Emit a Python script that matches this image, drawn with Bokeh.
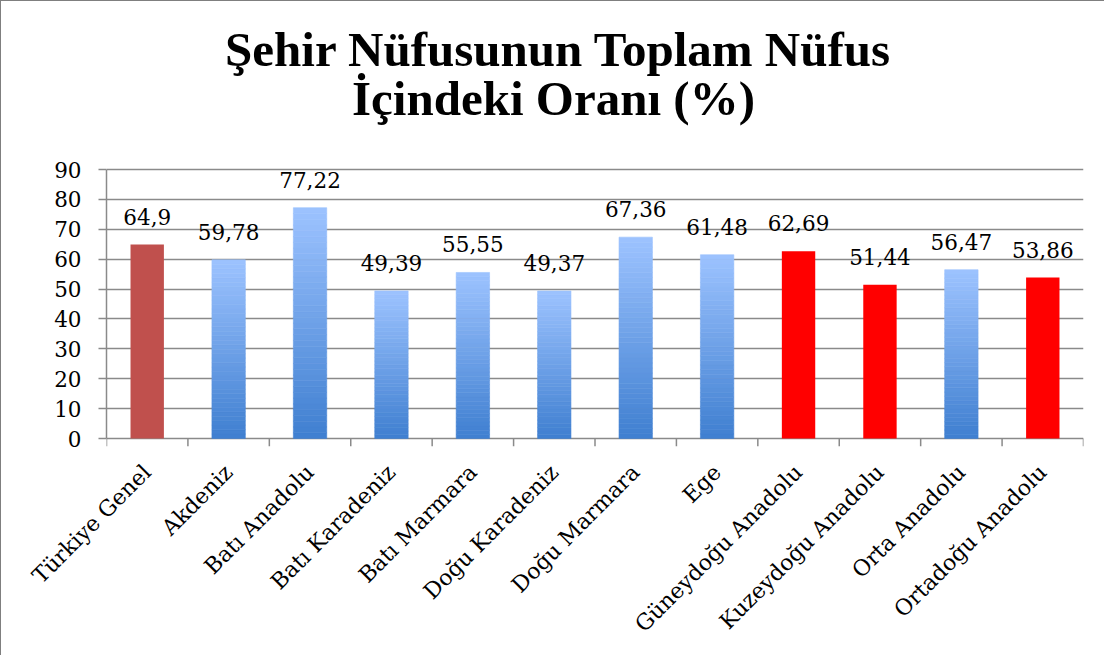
import math
from bokeh.plotting import figure
from bokeh.models import FactorRange, Range1d, FixedTicker, ColumnDataSource
from bokeh.transform import dodge
from bokeh.core.properties import value
from bokeh.embed import file_html
from bokeh.resources import INLINE

# ---------------- data ----------------
categories = ["Türkiye Genel", "Akdeniz", "Batı Anadolu", "Batı Karadeniz", "Batı Marmara",
              "Doğu Karadeniz", "Doğu Marmara", "Ege", "Güneydoğu Anadolu",
              "Kuzeydoğu Anadolu", "Orta Anadolu", "Ortadoğu Anadolu"]
values = [64.9, 59.78, 77.22, 49.39, 55.55, 49.37, 67.36, 61.48, 62.69, 51.44, 56.47, 53.86]
value_labels = ["64,9", "59,78", "77,22", "49,39", "55,55", "49,37", "67,36", "61,48",
                "62,69", "51,44", "56,47", "53,86"]
bar_group = ["genel", "grad", "grad", "grad", "grad", "grad", "grad", "grad",
             "red", "red", "grad", "red"]
y_ticks = [0, 10, 20, 30, 40, 50, 60, 70, 80, 90]
title_lines = ["Şehir Nüfusunun Toplam Nüfus", "İçindeki Oranı (%)"]

# ---------------- styles / layout ----------------
SERIF = "DejaVu Serif"
GRID = "#8a8a8a"
SOLID = {"genel": "#C0504D", "red": "#FF0000"}
GRAD_TOP = (0x9D, 0xC3, 0xFF)
GRAD_BOT = (0x3F, 0x7F, 0xD0)
N_SEG = 40
BAR_W = 0.41
Y_MAX = 90
W, H = 1104, 655
LEFT_PX, RIGHT_PX = 105, 22
TOP_PX = 168              # canvas y of the 90 grid line
PLOT_H_PX = 269           # pixels from 0 to 90
TICK_PX = 8               # length of the x tick marks below the axis
PX_PER_UNIT = PLOT_H_PX / Y_MAX
TICK_LEN = TICK_PX / PX_PER_UNIT
Y_TOP = Y_MAX + TOP_PX / PX_PER_UNIT
FRAME_BOTTOM = TOP_PX + PLOT_H_PX + TICK_PX
SLOT_PX = (W - LEFT_PX - RIGHT_PX) / len(categories)
LABEL_FS = "21.5px"
# title line anchor positions (canvas px: centre x, anchor y)
TITLE_POS = [(557, 48), (552, 97)]


def mix(t):
    r = [round(b + (a - b) * t) for a, b in zip(GRAD_TOP, GRAD_BOT)]
    return "#%02x%02x%02x" % tuple(r)


p = figure(x_range=FactorRange(*categories), y_range=Range1d(-TICK_LEN, Y_TOP),
           width=W, height=H, output_backend="svg", toolbar_location=None,
           title=None,
           min_border_left=LEFT_PX, min_border_right=RIGHT_PX, min_border_top=0,
           min_border_bottom=H - FRAME_BOTTOM)
p.outline_line_color = None
p.background_fill_color = "white"
p.border_fill_color = "white"
p.styles = {"border-left": "1px solid #7f7f7f", "border-top": "1px solid #7f7f7f"}

# grid / y axis
p.xgrid.visible = False
p.ygrid.grid_line_color = GRID
p.ygrid.grid_line_width = 1.5
p.ygrid.ticker = FixedTicker(ticks=y_ticks)
yax = p.yaxis[0]
yax.ticker = FixedTicker(ticks=y_ticks)
yax.bounds = (0, Y_MAX)
yax.axis_line_color = GRID
yax.axis_line_width = 1.5
yax.major_tick_line_color = GRID
yax.major_tick_line_width = 1.5
yax.major_tick_out = 8
yax.major_tick_in = 0
yax.minor_tick_line_color = None
yax.major_label_standoff = 17
yax.major_label_text_font = SERIF
yax.major_label_text_font_size = LABEL_FS
yax.major_label_text_color = "black"

# x axis: labels only (line is the 0 grid line, ticks drawn between categories)
xax = p.xaxis[0]
xax.axis_line_color = None
xax.major_tick_line_color = None
xax.minor_tick_line_color = None
xax.major_label_orientation = math.pi / 4
xax.major_label_text_font = SERIF
xax.major_label_text_font_size = "22px"
xax.major_label_text_color = "black"
xax.major_label_standoff = 16

edge_src = ColumnDataSource(dict(x=categories))
p.segment(x0=dodge("x", -0.5, range=p.x_range), y0=0,
          x1=dodge("x", -0.5, range=p.x_range), y1=-TICK_LEN,
          source=edge_src, line_color=GRID, line_width=1.5)
last_src = ColumnDataSource(dict(x=categories[-1:]))
p.segment(x0=dodge("x", 0.5, range=p.x_range), y0=0,
          x1=dodge("x", 0.5, range=p.x_range), y1=-TICK_LEN,
          source=last_src, line_color=GRID, line_width=1.5)

# bars
for cat, v, g in zip(categories, values, bar_group):
    if g == "grad":
        bottoms, tops, colors = [], [], []
        for k in range(N_SEG):
            bottoms.append(v * k / N_SEG)
            tops.append(v * (k + 1) / N_SEG)
            colors.append(mix((k + 0.5) / N_SEG))
        src = ColumnDataSource(dict(x=[cat] * N_SEG, b=bottoms, t=tops, c=colors))
        p.vbar(x="x", bottom="b", top="t", width=BAR_W, source=src,
               fill_color="c", line_color="c", line_width=0.6)
    else:
        p.vbar(x=[cat], top=[v], width=BAR_W, fill_color=SOLID[g], line_color=None)

# value labels
lab_src = ColumnDataSource(dict(x=categories, y=values, t=value_labels))
p.text(x="x", y="y", text="t", source=lab_src, text_align="center",
       text_baseline="alphabetic", y_offset=-28, text_font=value(SERIF),
       text_font_size=LABEL_FS, text_color="black")

# title (two lines), placed in the empty band above the 90 line
title_src = ColumnDataSource(dict(
    x=[(cx - LEFT_PX) / SLOT_PX for cx, _ in TITLE_POS],
    y=[Y_MAX + (TOP_PX - by) / PX_PER_UNIT for _, by in TITLE_POS],
    t=title_lines))
p.text(x="x", y="y", text="t", source=title_src, text_align="center",
       text_baseline="alphabetic", text_font=value("Liberation Serif"),
       text_font_size="49px", text_font_style="bold", text_color="black")

open("out.html", "w").write(file_html(p, INLINE))
